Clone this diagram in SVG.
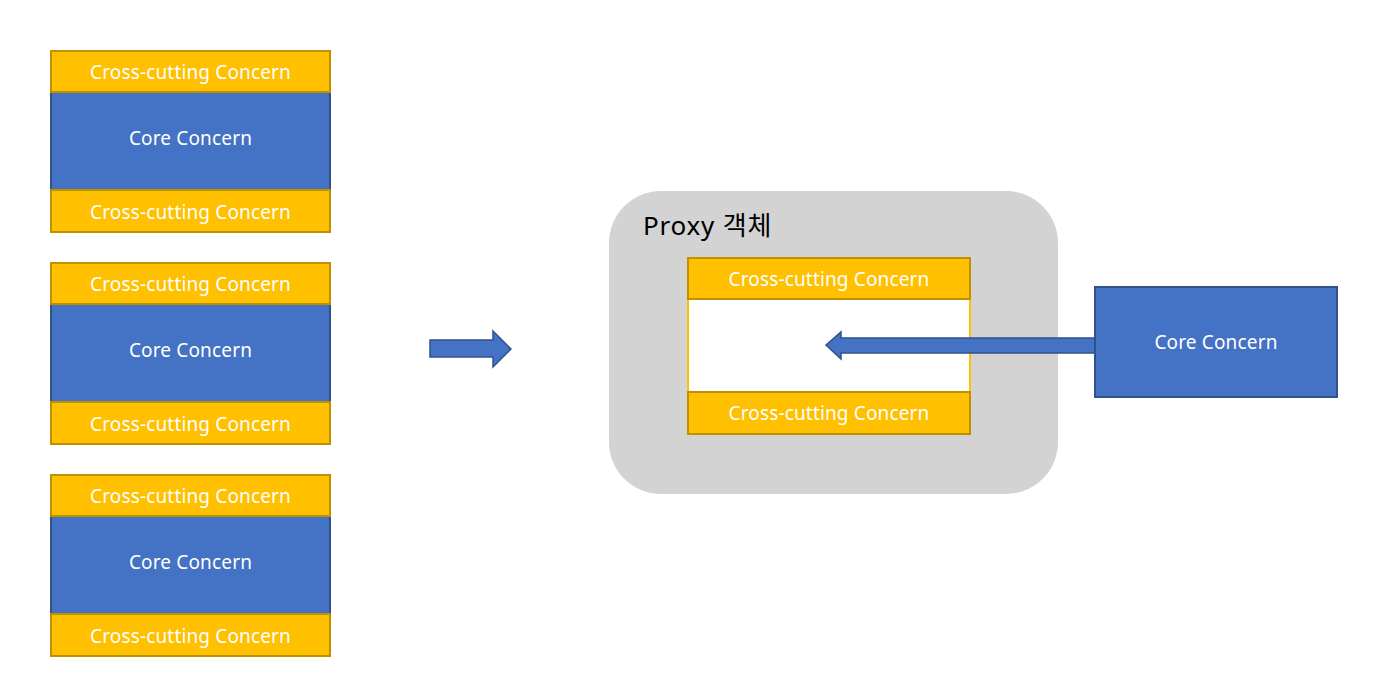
<svg xmlns="http://www.w3.org/2000/svg" width="1392" height="697" viewBox="0 0 1392 697">
<style>
.cc{fill:#FFC000;stroke:#BF9000;stroke-width:2}
.core{fill:#4472C4;stroke:#2F528F;stroke-width:2}
.t{font-family:"Noto Sans","Noto Sans CJK KR",sans-serif;font-size:19px;letter-spacing:0.15px;fill:#FFFFFF;text-anchor:middle;dominant-baseline:central}
.arrow{fill:#4472C4;stroke:#2F528F;stroke-width:1.5}
</style>
<rect width="1392" height="697" fill="#FFFFFF"/>
<g id="stack1">
<rect class="core" x="51" y="92" width="279" height="98"/>
<rect class="cc" x="51" y="51" width="279" height="41"/>
<rect class="cc" x="51" y="190" width="279" height="42"/>
<text class="t" x="190.5" y="72">Cross-cutting Concern</text>
<text class="t" x="190.5" y="138">Core Concern</text>
<text class="t" x="190.5" y="212">Cross-cutting Concern</text>
</g>
<g id="stack2">
<rect class="core" x="51" y="304" width="279" height="98"/>
<rect class="cc" x="51" y="263" width="279" height="41"/>
<rect class="cc" x="51" y="402" width="279" height="42"/>
<text class="t" x="190.5" y="284">Cross-cutting Concern</text>
<text class="t" x="190.5" y="350">Core Concern</text>
<text class="t" x="190.5" y="424">Cross-cutting Concern</text>
</g>
<g id="stack3">
<rect class="core" x="51" y="516" width="279" height="98"/>
<rect class="cc" x="51" y="475" width="279" height="41"/>
<rect class="cc" x="51" y="614" width="279" height="42"/>
<text class="t" x="190.5" y="496">Cross-cutting Concern</text>
<text class="t" x="190.5" y="562">Core Concern</text>
<text class="t" x="190.5" y="636">Cross-cutting Concern</text>
</g>
<g id="proxy">
<rect x="609" y="191" width="449" height="303" rx="52" ry="52" fill="#D3D3D3"/>
<text x="643" y="235" font-family="'Noto Sans','Noto Sans CJK KR',sans-serif" font-size="26" letter-spacing="0.8" fill="#000000">Proxy 객체</text>
<rect x="688" y="299" width="282" height="93" fill="#FFFFFF" stroke="#FFC000" stroke-width="2"/>
<rect class="cc" x="688" y="258" width="282" height="41"/>
<rect class="cc" x="688" y="392" width="282" height="42"/>
<text class="t" x="829" y="279">Cross-cutting Concern</text>
<text class="t" x="829" y="413">Cross-cutting Concern</text>
</g>
<g id="connectors">
<path class="arrow" d="M430,340 L493,340 L493,331 L511,349 L493,367 L493,357 L430,357 Z"/>
<path class="arrow" d="M1095,338 L841,338 L841,332 L826,345 L841,359 L841,353 L1095,353 Z"/>
</g>
<g id="core-right">
<rect class="core" x="1095" y="287" width="242" height="110"/>
<text class="t" x="1216" y="342">Core Concern</text>
</g>
</svg>
